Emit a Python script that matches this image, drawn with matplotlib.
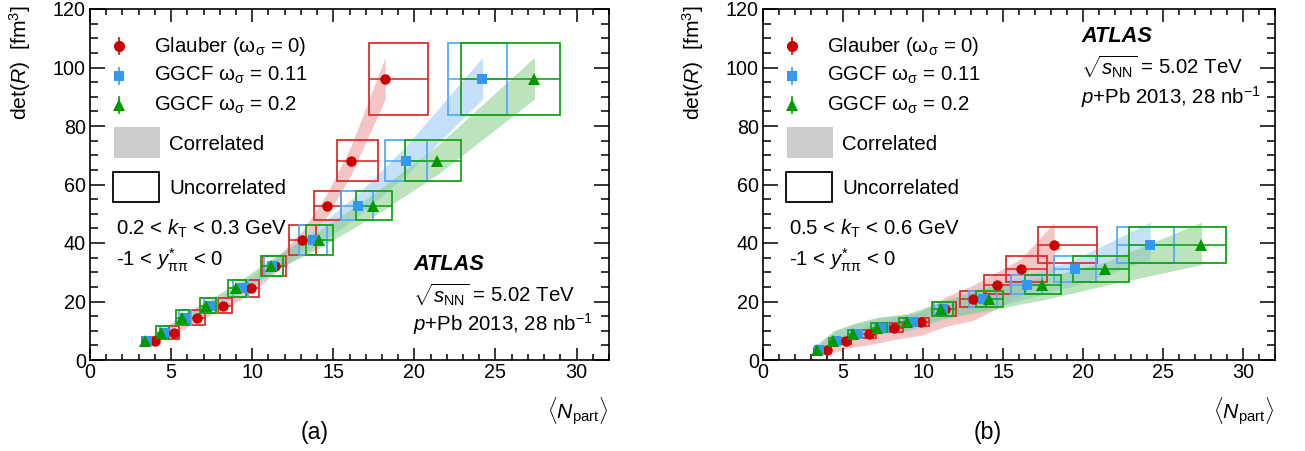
import matplotlib
matplotlib.use('Agg')
import matplotlib.pyplot as plt
from matplotlib.patches import Rectangle
from matplotlib.ticker import MultipleLocator

plt.rcParams['font.family'] = ['Liberation Sans', 'DejaVu Sans']
plt.rcParams['mathtext.fontset'] = 'custom'
plt.rcParams['mathtext.rm'] = 'Liberation Sans'
plt.rcParams['mathtext.it'] = 'Liberation Sans:italic'
plt.rcParams['mathtext.bf'] = 'Liberation Sans:bold'
plt.rcParams['mathtext.sf'] = 'Liberation Sans'

# ---------------- data ----------------
models = ['Glauber', 'GGCF011', 'GGCF02']
npart_glauber = [4.0, 5.2, 6.6, 8.2, 9.9, 11.4, 13.1, 14.6, 16.1, 18.2]
npart_ggcf011 = [3.5, 4.55, 5.85, 7.4, 9.35, 11.25, 13.75, 16.5, 19.5, 24.2]
npart_ggcf02 = [3.4, 4.4, 5.65, 7.15, 9.0, 11.15, 14.1, 17.45, 21.4, 27.4]

# uncorrelated Npart box edges
box_xlo_glauber = [3.7, 4.87, 6.16, 7.9, 9.65, 10.6, 12.3, 13.8, 15.2, 17.2]
box_xhi_glauber = [4.17, 5.5, 7.09, 8.77, 10.4, 12.06, 13.96, 15.5, 17.76, 20.85]
box_xlo_ggcf011 = [3.3, 4.3, 5.5, 7.0, 8.8, 10.7, 12.9, 15.5, 18.2, 22.1]
box_xhi_ggcf011 = [3.75, 4.85, 6.2, 7.8, 9.75, 11.9, 14.6, 17.45, 20.8, 25.7]
box_xlo_ggcf02 = [3.18, 4.1, 5.3, 6.78, 8.48, 10.54, 13.3, 16.4, 19.4, 22.9]
box_xhi_ggcf02 = [3.7, 4.87, 6.12, 7.75, 9.6, 11.9, 15.0, 18.6, 22.85, 28.95]

# panel (a): 0.2 < kT < 0.3 GeV
detR_a = [6.5, 9.4, 14.4, 18.5, 24.5, 32.0, 41.1, 52.7, 68.1, 96.0]
detR_a_unc = [1.2, 2.25, 2.55, 2.55, 3.0, 3.45, 5.15, 4.95, 6.95, 12.3]
detR_a_stat = [0.3, 0.3, 0.4, 0.4, 0.5, 0.6, 0.7, 0.8, 1.0, 1.3]
band_a_hi = [7.0, 10.1, 15.5, 19.9, 26.3, 34.4, 44.2, 56.7, 73.2, 103.5]
band_a_lo = [6.0, 8.7, 13.4, 17.2, 22.8, 29.8, 38.2, 49.0, 63.3, 89.2]

# panel (b): 0.5 < kT < 0.6 GeV
detR_b = [3.4, 6.5, 8.9, 11.1, 12.9, 17.5, 20.8, 25.8, 31.1, 39.2]
detR_b_unc = [0.8, 1.0, 1.3, 1.5, 1.4, 2.3, 2.85, 3.25, 4.35, 6.2]
detR_b_stat = [0.2, 0.2, 0.3, 0.3, 0.3, 0.4, 0.4, 0.5, 0.6, 0.8]
band_b_hi_glauber = [5.0, 9.0, 12.0, 14.5, 16.5, 21.5, 25.5, 30.0, 34.5, 47.0]
band_b_lo_glauber = [1.8, 4.0, 5.2, 7.0, 8.5, 11.5, 13.5, 17.5, 22.0, 30.0]
band_b_hi_ggcf011 = [5.5, 10.0, 12.5, 14.6, 15.8, 20.0, 25.0, 29.0, 34.5, 47.1]
band_b_lo_ggcf011 = [2.7, 5.2, 7.1, 8.9, 10.3, 14.0, 17.0, 21.0, 25.5, 34.3]
band_b_hi_ggcf02 = [5.5, 10.0, 12.5, 14.6, 15.8, 20.0, 25.0, 28.0, 33.5, 47.1]
band_b_lo_ggcf02 = [2.7, 5.2, 7.1, 8.9, 10.3, 14.0, 17.0, 20.5, 25.5, 32.6]

legend_labels = ['Glauber (ω$_{\\mathrm{σ}}$ = 0)', 'GGCF ω$_{\\mathrm{σ}}$ = 0.11', 'GGCF ω$_{\\mathrm{σ}}$ = 0.2']

# ---------------- style ----------------
marker_col = {'Glauber': '#cc0000', 'GGCF011': '#3399ee', 'GGCF02': '#009900'}
box_col = {'Glauber': '#dd2e2e', 'GGCF011': '#55aaff', 'GGCF02': '#15a515'}
band_col = {'Glauber': '#ee9494', 'GGCF011': '#96c8f5', 'GGCF02': '#88cc88'}
marker_sym = {'Glauber': 'o', 'GGCF011': 's', 'GGCF02': '^'}
marker_size = {'Glauber': 7.5, 'GGCF011': 7, 'GGCF02': 8}

npart = {'Glauber': npart_glauber, 'GGCF011': npart_ggcf011, 'GGCF02': npart_ggcf02}
bxlo = {'Glauber': box_xlo_glauber, 'GGCF011': box_xlo_ggcf011, 'GGCF02': box_xlo_ggcf02}
bxhi = {'Glauber': box_xhi_glauber, 'GGCF011': box_xhi_ggcf011, 'GGCF02': box_xhi_ggcf02}

W, H = 1305, 451
fig = plt.figure(figsize=(W / 100, H / 100), dpi=100)

panels = [
    dict(box=(90, 9, 519, 351), y=detR_a, yunc=detR_a_unc, ystat=detR_a_stat,
         band={m: (band_a_lo, band_a_hi) for m in models},
         kt=r'0.2 < $k_{\mathrm{T}}$ < 0.3 GeV', label='(a)', atlas_pos='low'),
    dict(box=(763, 9, 512, 351), y=detR_b, yunc=detR_b_unc, ystat=detR_b_stat,
         band={'Glauber': (band_b_lo_glauber, band_b_hi_glauber),
               'GGCF011': (band_b_lo_ggcf011, band_b_hi_ggcf011),
               'GGCF02': (band_b_lo_ggcf02, band_b_hi_ggcf02)},
         kt=r'0.5 < $k_{\mathrm{T}}$ < 0.6 GeV', label='(b)', atlas_pos='high'),
]

FS = 14.2

for p in panels:
    L, T, Wp, Hp = p['box']
    ax = fig.add_axes([L / W, 1 - (T + Hp) / H, Wp / W, Hp / H])

    def fx(px):
        return (px - L) / Wp

    def fy(py):
        return (T + Hp - py) / Hp

    ax.set_xlim(0, 32)
    ax.set_ylim(0, 120)
    ax.xaxis.set_major_locator(MultipleLocator(5))
    ax.xaxis.set_minor_locator(MultipleLocator(1))
    ax.yaxis.set_major_locator(MultipleLocator(20))
    ax.yaxis.set_minor_locator(MultipleLocator(5))
    ax.tick_params(axis='both', which='both', direction='in', top=True, right=True, width=1.1)
    ax.tick_params(axis='x', which='major', length=9, labelsize=FS, pad=2)
    ax.tick_params(axis='x', which='minor', length=4.5)
    ax.tick_params(axis='y', which='major', length=11, labelsize=FS, pad=3)
    ax.tick_params(axis='y', which='minor', length=5.5)
    for s in ax.spines.values():
        s.set_linewidth(1.2)

    # correlated bands
    for m in models:
        lo, hi = p['band'][m]
        ax.fill_between(npart[m], lo, hi, color=band_col[m], alpha=0.55, lw=0, zorder=1)

    # uncorrelated boxes + x error lines
    for m in models:
        for i, x in enumerate(npart[m]):
            y = p['y'][i]
            ey = p['yunc'][i]
            ax.add_patch(Rectangle((bxlo[m][i], y - ey), bxhi[m][i] - bxlo[m][i], 2 * ey,
                                   fill=False, edgecolor=box_col[m], lw=1.3, zorder=3))
            ax.plot([bxlo[m][i], bxhi[m][i]], [y, y], color=box_col[m], lw=1.2, zorder=3)

    # markers
    for m in models:
        ax.errorbar(npart[m], p['y'], yerr=p['ystat'], fmt=marker_sym[m], color=marker_col[m],
                    ms=marker_size[m], mew=0, elinewidth=1.2, capsize=0, zorder=5)

    # legend
    ly = [46, 75.5, 105]
    for m, lab, yy in zip(models, legend_labels, ly):
        ax.plot([fx(L + 29)] * 2, [fy(yy - 8), fy(yy + 8)], transform=ax.transAxes,
                color=marker_col[m], lw=1.2, clip_on=False, zorder=6)
        ax.plot([fx(L + 29)], [fy(yy)], marker=marker_sym[m], color=marker_col[m],
                ms=marker_size[m] + 0.5, mew=0, transform=ax.transAxes, zorder=7)
        ax.text(fx(L + 64), fy(yy), lab, transform=ax.transAxes, fontsize=FS + 0.5,
                va='center', ha='left')
    ax.add_patch(Rectangle((fx(L + 24), fy(158)), fx(L + 70) - fx(L + 24), fy(127) - fy(158),
                           transform=ax.transAxes, facecolor='#cccccc', edgecolor='none'))
    ax.text(fx(L + 79), fy(144), 'Correlated', transform=ax.transAxes, fontsize=FS + 0.5,
            va='center', ha='left')
    ax.add_patch(Rectangle((fx(L + 23), fy(202)), fx(L + 69) - fx(L + 23), fy(172) - fy(202),
                           transform=ax.transAxes, facecolor='white', edgecolor='black', lw=1.3))
    ax.text(fx(L + 79), fy(189), 'Uncorrelated', transform=ax.transAxes, fontsize=FS + 0.5,
            va='center', ha='left')
    ax.text(fx(L + 26), fy(229), p['kt'], transform=ax.transAxes, fontsize=FS + 0.5,
            va='center', ha='left')
    ax.text(fx(L + 26), fy(260), '-1 < $y^{*}_{\\mathrm{ππ}}$ < 0', transform=ax.transAxes,
            fontsize=FS + 0.5, va='center', ha='left')

    # ATLAS block
    if p['atlas_pos'] == 'low':
        ax0, ys = 413, [264, 295, 324]
    else:
        ax0, ys = 1081, [36, 67, 97]
    ax.text(fx(ax0), fy(ys[0]), 'ATLAS', transform=ax.transAxes, fontsize=FS + 1.5,
            fontweight='bold', fontstyle='italic', va='center', ha='left')
    ax.text(fx(ax0), fy(ys[1]), r'$\sqrt{s_{\mathrm{NN}}}$ = 5.02 TeV', transform=ax.transAxes,
            fontsize=FS + 0.5, va='center', ha='left')
    ax.text(fx(ax0), fy(ys[2]), r'$p$+Pb 2013, 28 nb$^{\mathrm{-1}}$', transform=ax.transAxes,
            fontsize=FS + 0.5, va='center', ha='left')

    # axis labels
    fig.text((L + Wp - 1) / W, 1 - 412 / H, r'$\langle N_{\mathrm{part}}\rangle$', fontsize=FS + 1,
             ha='right', va='center')
    fig.text((L - 70) / W, 1 - 5 / H, r'det($R$)  [fm$^{3}$]', fontsize=FS + 1, rotation=90,
             ha='center', va='top')
    fig.text((L + 225) / W, 1 - 432 / H, p['label'], fontsize=FS + 2.5, ha='center', va='center')

fig.savefig('out.png', dpi=100)
